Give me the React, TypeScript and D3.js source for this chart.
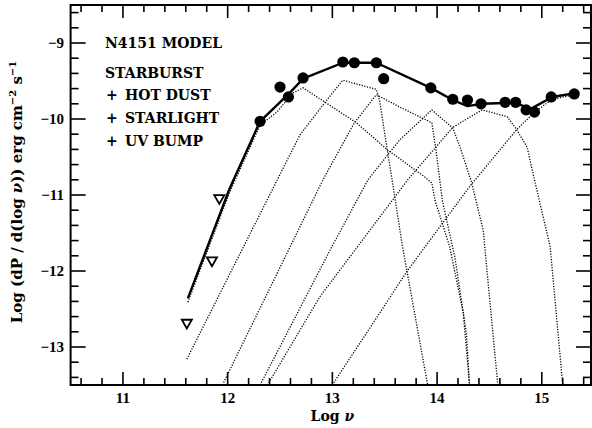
import React, { useEffect, useRef } from "react";
import * as d3 from "d3";

// model components, [log nu, log nuFnu]
const starburst = [[11.62, -12.41], [12.02, -10.96], [12.31, -10.08], [12.47, -9.91], [12.62, -9.66], [12.72, -9.59], [13.23, -10.05], [13.53, -10.41], [13.88, -10.76], [13.95, -10.84], [13.98, -11.07], [14.12, -11.68], [14.25, -12.55], [14.31, -13.5]];
const hotDustA = [[11.61, -13.16], [12.69, -10.21], [12.93, -9.78], [13.1, -9.49], [13.42, -9.61], [13.45, -9.75], [13.52, -10.37], [13.57, -10.8], [13.67, -11.68], [13.91, -13.5]];
const hotDustB = [[11.95, -13.5], [12.91, -10.8], [13.21, -10.05], [13.42, -9.68], [13.64, -9.84], [13.95, -10.05], [13.99, -10.41], [14.05, -11.07], [14.17, -11.82], [14.28, -12.82], [14.31, -13.5]];
const starlightA = [[12.31, -13.5], [12.98, -11.72], [13.34, -10.8], [13.64, -10.28], [13.95, -9.88], [14.15, -10.12], [14.22, -10.37], [14.33, -10.84], [14.44, -11.46], [14.58, -13.5]];
const starlightB = [[12.38, -13.5], [12.88, -12.34], [13.72, -10.8], [14.15, -10.11], [14.43, -9.88], [14.67, -9.97], [14.76, -10.14], [14.86, -10.37], [14.93, -10.8], [15.08, -11.68], [15.2, -13.5]];
const uvBump = [[13.0, -13.5], [13.72, -11.99], [14.31, -10.89], [14.76, -10.14], [14.93, -9.91], [15.1, -9.74], [15.32, -9.68]];

const totalModel = [[11.62, -12.36], [12.02, -10.91], [12.31, -10.03], [12.59, -9.66], [12.72, -9.47], [13.1, -9.26], [13.42, -9.26], [13.94, -9.59], [14.15, -9.75], [14.29, -9.83], [14.43, -9.8], [14.65, -9.79], [14.76, -9.79], [14.89, -9.87], [15.1, -9.71], [15.32, -9.66]];

// observations
const detections = [[12.31, -10.03], [12.5, -9.58], [12.58, -9.71], [12.72, -9.46], [13.1, -9.25], [13.21, -9.26], [13.42, -9.26], [13.49, -9.47], [13.94, -9.59], [14.15, -9.74], [14.29, -9.75], [14.42, -9.8], [14.65, -9.78], [14.75, -9.78], [14.85, -9.88], [14.93, -9.91], [15.09, -9.71], [15.31, -9.67]];
const upperLimits = [[11.61, -12.68], [11.85, -11.86], [11.92, -11.04]];

const xTickLabels = [11, 12, 13, 14, 15];
const yTickLabels = [-9, -10, -11, -12, -13];
const legendHead = "STARBURST";
const legendAdds = ["HOT DUST", "STARLIGHT", "UV BUMP"];

const W = 592, H = 428;
const TICK_FONT = "'Liberation Serif', serif";
const LABEL_FONT = "'DejaVu Serif', serif";

export default function App() {
  const ref = useRef(null);

  useEffect(() => {
    const svg = d3.select(ref.current);
    svg.selectAll("*").remove();

    const x = d3.scaleLinear().domain([10.5, 15.47]).range([70.6, 591]);
    const y = d3.scaleLinear().domain([-13.5, -8.5]).range([385, 5]);
    const [x0, x1] = x.range();
    const [y1, y0] = y.range();

    svg.append("rect").attr("width", W).attr("height", H).attr("fill", "#fff");

    svg.append("defs").append("clipPath").attr("id", "plot")
      .append("rect").attr("x", x0).attr("y", y0).attr("width", x1 - x0).attr("height", y1 - y0);

    // frame
    svg.append("rect")
      .attr("x", x0).attr("y", y0).attr("width", x1 - x0).attr("height", y1 - y0)
      .attr("fill", "none").attr("stroke", "#000").attr("stroke-width", 2);

    // ticks every 0.2, longer on the integers
    const xt = d3.range(10.6, 15.45, 0.2).map(v => +v.toFixed(1));
    const yt = d3.range(-13.4, -8.55, 0.2).map(v => +v.toFixed(1));
    const isMajor = v => Math.abs(v - Math.round(v)) < 1e-6;
    const ticks = svg.append("g").attr("stroke", "#000").attr("stroke-width", 1.6);
    xt.forEach(v => {
      const len = isMajor(v) ? 13 : 7;
      ticks.append("line").attr("x1", x(v)).attr("x2", x(v)).attr("y1", y1).attr("y2", y1 - len);
      ticks.append("line").attr("x1", x(v)).attr("x2", x(v)).attr("y1", y0).attr("y2", y0 + len);
    });
    yt.forEach(v => {
      const len = isMajor(v) ? 15 : 8;
      ticks.append("line").attr("x1", x0).attr("x2", x0 + len).attr("y1", y(v)).attr("y2", y(v));
      ticks.append("line").attr("x1", x1).attr("x2", x1 - len).attr("y1", y(v)).attr("y2", y(v));
    });

    const tl = svg.append("g").attr("font-family", TICK_FONT).attr("font-weight", "bold").attr("font-size", 15);
    xTickLabels.forEach(v => {
      tl.append("text").attr("x", x(v)).attr("y", 403).attr("text-anchor", "middle").text(v);
    });
    yTickLabels.forEach(v => {
      tl.append("text").attr("x", 64).attr("y", y(v) + 5).attr("text-anchor", "end").text("\u2212" + Math.abs(v));
    });

    const txt = svg.append("g").attr("font-family", LABEL_FONT).attr("font-weight", "bold").attr("font-size", 14);

    // axis titles
    const xl = txt.append("text").attr("x", x(13)).attr("y", 421).attr("text-anchor", "middle");
    xl.append("tspan").text("Log ");
    xl.append("tspan").attr("font-style", "italic").text("\u03bd");

    const yl = txt.append("text").attr("transform", "translate(22,192) rotate(-90)")
      .attr("text-anchor", "middle").attr("font-size", 15);
    yl.append("tspan").text("Log (dP / d(log ");
    yl.append("tspan").attr("font-style", "italic").text("\u03bd");
    yl.append("tspan").text(")) erg cm");
    yl.append("tspan").attr("dy", -6).attr("font-size", 10).text("\u22122");
    yl.append("tspan").attr("dy", 6).text(" s");
    yl.append("tspan").attr("dy", -6).attr("font-size", 10).text("\u22121");

    // legend
    txt.append("text").attr("x", 105).attr("y", 48).text("N4151 MODEL");
    txt.append("text").attr("x", 105).attr("y", 78).text(legendHead);
    legendAdds.forEach((s, i) => {
      const yy = 100 + i * 23;
      txt.append("text").attr("x", 106).attr("y", yy).text("+");
      txt.append("text").attr("x", 125).attr("y", yy).text(s);
    });

    const line = d3.line().x(d => x(d[0])).y(d => y(d[1]));
    const plot = svg.append("g").attr("clip-path", "url(#plot)");

    [starburst, hotDustA, hotDustB, starlightA, starlightB, uvBump].forEach(c => {
      plot.append("path").attr("d", line(c)).attr("fill", "none")
        .attr("stroke", "#000").attr("stroke-width", 1.3).attr("stroke-dasharray", "1.2 1.5");
    });

    plot.append("path").attr("d", line(totalModel)).attr("fill", "none")
      .attr("stroke", "#000").attr("stroke-width", 2.4).attr("stroke-linejoin", "round");

    plot.selectAll("circle.det").data(detections).enter().append("circle")
      .attr("class", "det").attr("cx", d => x(d[0])).attr("cy", d => y(d[1])).attr("r", 5.6).attr("fill", "#000");

    const tri = d3.symbol().type(d3.symbolTriangle).size(44);
    plot.selectAll("path.lim").data(upperLimits).enter().append("path")
      .attr("class", "lim").attr("d", tri)
      .attr("transform", d => `translate(${x(d[0])},${y(d[1])}) rotate(180)`)
      .attr("fill", "#fff").attr("stroke", "#000").attr("stroke-width", 1.8);
  }, []);

  return (
    <svg ref={ref} width={W} height={H} style={{ position: "absolute", left: 0, top: 0 }} />
  );
}
